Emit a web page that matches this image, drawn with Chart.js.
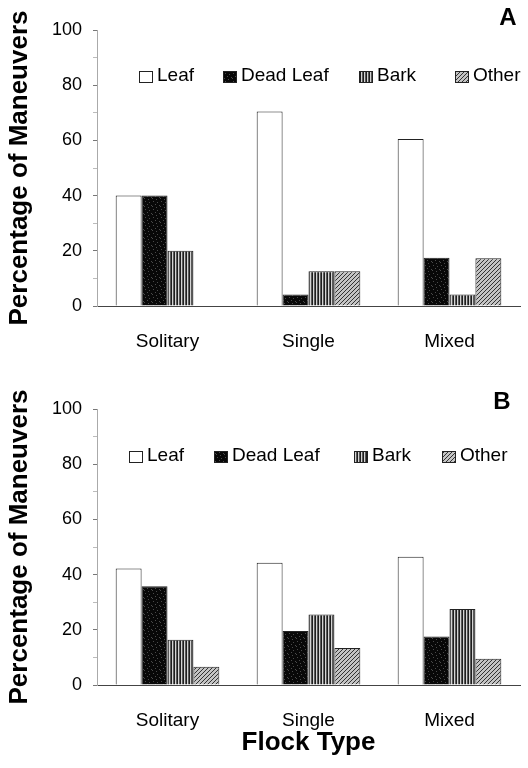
<!DOCTYPE html>
<html><head><meta charset="utf-8">
<script src="https://cdn.jsdelivr.net/npm/chart.js@4"></script>
<style>
html,body{margin:0;padding:0;background:#fff;}
#wrap{position:relative;width:528px;height:768px;overflow:hidden;}
canvas{position:absolute;left:0;}
</style>
</head><body>
<div id="wrap">
<canvas id="cA" width="528" height="384" style="top:0px"></canvas>
<canvas id="cB" width="528" height="384" style="top:384px"></canvas>
</div>
<script>
const categories = ['Solitary', 'Single', 'Mixed'];
const seriesNames = ['Leaf', 'Dead Leaf', 'Bark', 'Other'];
// Panel A
const leafA = [40, 70.5, 60.5];
const deadLeafA = [40, 4.2, 17.5];
const barkA = [20, 12.6, 4.2];
const otherA = [0, 12.6, 17.3];
// Panel B
const leafB = [42.2, 44.3, 46.5];
const deadLeafB = [35.8, 19.6, 17.6];
const barkB = [16.4, 25.5, 27.5];
const otherB = [6.6, 13.4, 9.5];
const yTickLabels = [0, 20, 40, 60, 80, 100];
const yTitle = 'Percentage of Maneuvers';
const xTitle = 'Flock Type';

const FONT = "'Liberation Sans', Arial, Helvetica, sans-serif";

function makePattern(w, h, draw) {
  const c = document.createElement('canvas');
  c.width = w; c.height = h;
  const g = c.getContext('2d');
  draw(g);
  return g.createPattern(c, 'repeat');
}
const fills = [
  '#ffffff',
  makePattern(8, 8, g => {
    g.fillStyle = '#080808'; g.fillRect(0, 0, 8, 8);
    g.fillStyle = '#4a4a4a';
    [[1,1],[5,2],[3,4],[7,5],[0,6],[4,7]].forEach(p => g.fillRect(p[0], p[1], 1, 1));
  }),
  makePattern(3, 1, g => {
    g.fillStyle = '#1e1e1e'; g.fillRect(0, 0, 1, 1);
    g.fillStyle = '#d4d4d4'; g.fillRect(1, 0, 1, 1);
    g.fillStyle = '#5a5a5a'; g.fillRect(2, 0, 1, 1);
  }),
  makePattern(4, 4, g => {
    g.fillStyle = '#c4c4c4'; g.fillRect(0, 0, 4, 4);
    g.fillStyle = '#333';
    for (let i = 0; i < 4; i++) g.fillRect(i, 3 - i, 1, 1);
  })
];

const decorPlugin = {
  id: 'panelDecor',
  afterDraw(chart, args, o) {
    const ctx = chart.ctx;
    ctx.save();
    ctx.font = '19px ' + FONT;
    ctx.textBaseline = 'middle';
    ctx.textAlign = 'left';
    chart.data.datasets.forEach((ds, i) => {
      const x = o.legendX[i];
      ctx.fillStyle = ds.backgroundColor;
      ctx.fillRect(x, o.boxY, 14, 12);
      ctx.strokeStyle = '#222'; ctx.lineWidth = 1;
      ctx.strokeRect(x + 0.5, o.boxY + 0.5, 13, 11);
      ctx.fillStyle = '#000';
      ctx.fillText(ds.label, x + 18, o.textY);
    });
    ctx.font = 'bold 24px ' + FONT;
    ctx.textAlign = 'center';
    ctx.fillStyle = '#000';
    ctx.fillText(o.letter, o.letterX, o.letterY);
    ctx.restore();
  }
};

function build(canvasId, series, cfg) {
  const datasets = series.map((vals, i) => ({
    label: seriesNames[i],
    data: vals,
    backgroundColor: fills[i],
    borderColor: '#222',
    borderWidth: 1,
    barPercentage: 1,
    categoryPercentage: 0.735
  }));
  return new Chart(document.getElementById(canvasId), {
    type: 'bar',
    data: { labels: categories, datasets },
    plugins: [decorPlugin],
    options: {
      responsive: false,
      animation: false,
      devicePixelRatio: 1,
      layout: { padding: { top: cfg.top, left: 0, right: 8, bottom: 0 } },
      plugins: {
        legend: { display: false },
        tooltip: { enabled: false },
        panelDecor: cfg.decor
      },
      scales: {
        x: {
          grid: { display: false },
          border: { display: true, color: '#444', width: 1 },
          ticks: { color: '#000', padding: 16, font: { family: FONT, size: 19 } },
          title: {
            display: cfg.showXTitle,
            text: xTitle,
            color: '#000',
            font: { family: FONT, size: 26, weight: 'bold' },
            padding: { top: 0, bottom: 10 }
          },
          afterFit: s => { s.height = cfg.xHeight; }
        },
        y: {
          min: 0, max: 100,
          grid: {
            drawOnChartArea: false, drawTicks: true, tickLength: 4,
            color: c => (yTickLabels.includes(c.tick && c.tick.value) ? '#777' : '#bbb')
          },
          border: { display: true, color: '#aaa', width: 1, dash: [2, 2] },
          ticks: {
            stepSize: 10, padding: 11, color: '#000',
            font: { family: FONT, size: 18 },
            callback: v => (yTickLabels.includes(v) ? String(v) : '')
          },
          title: {
            display: true, text: yTitle, color: '#000',
            font: { family: FONT, size: 26, weight: 'bold' },
            padding: { top: 4, bottom: 0 }
          },
          afterFit: s => { s.width = 97; }
        }
      }
    }
  });
}

build('cA', [leafA, deadLeafA, barkA, otherA], {
  top: 30, xHeight: 78, showXTitle: false,
  decor: { legendX: [139, 223, 359, 455], boxY: 71, textY: 76, letter: 'A', letterX: 508, letterY: 18 }
});
build('cB', [leafB, deadLeafB, barkB, otherB], {
  top: 25, xHeight: 83, showXTitle: true,
  decor: { legendX: [129, 214, 354, 442], boxY: 67, textY: 72, letter: 'B', letterX: 502, letterY: 18 }
});
</script>
</body></html>
